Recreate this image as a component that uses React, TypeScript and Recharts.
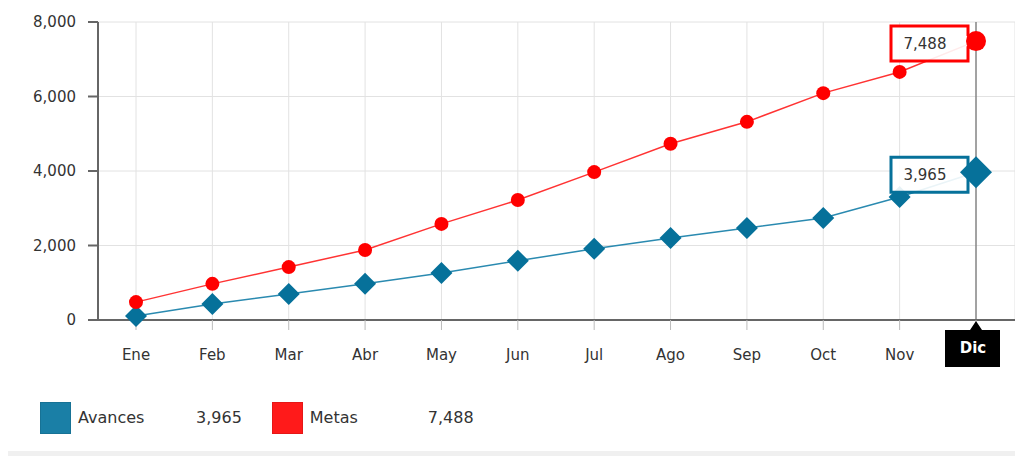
import React from 'react';
import { LineChart, Line, XAxis, YAxis, CartesianGrid, ReferenceLine } from 'recharts';

const MONTHS = ['Ene', 'Feb', 'Mar', 'Abr', 'May', 'Jun', 'Jul', 'Ago', 'Sep', 'Oct', 'Nov', 'Dic'];
const AVANCES = [110, 430, 700, 970, 1260, 1590, 1910, 2200, 2470, 2740, 3300, 3965];
const METAS = [480, 970, 1420, 1880, 2580, 3220, 3970, 4730, 5320, 6090, 6660, 7488];
const Y_TICKS = [0, 2000, 4000, 6000, 8000];

const BLUE = '#06719a';
const BLUE_LINE = '#2a8ab0';
const RED = '#ff0000';
const RED_LINE = '#ff3333';
const FONT = '"DejaVu Sans", Verdana, sans-serif';

const data = MONTHS.map((m, i) => ({ month: m, avances: AVANCES[i], metas: METAS[i] }));
const last = MONTHS.length - 1;
const fmt = (v: number) => v.toLocaleString('en-US');

const ValueBox = ({ cx, cy, color, value }: { cx: number; cy: number; color: string; value: number }) => {
  const l = cx - 85;
  const r = cx - 8;
  const t = cy - 15;
  const b = cy + 20;
  const d = `M${l},${t} H${r} V${cy - 6} L${cx - 2},${cy} L${r},${cy + 6} V${b} H${l} Z`;
  return (
    <g>
      <path d={d} fill="#fff" fillOpacity={0.9} stroke={color} strokeWidth={3} />
      <text x={cx - 51} y={cy + 8} textAnchor="middle" fontSize={15} fontFamily={FONT} fill="#333">
        {fmt(value)}
      </text>
    </g>
  );
};

const RedDot = (props: any) => {
  const { cx, cy, index, value } = props;
  if (index === last) {
    return (
      <g key={`r-${index}`}>
        <ValueBox cx={cx} cy={cy} color={RED} value={value} />
        <circle cx={cx} cy={cy} r={10} fill={RED} />
      </g>
    );
  }
  return <circle key={`r-${index}`} cx={cx} cy={cy} r={7} fill={RED} />;
};

const BlueDot = (props: any) => {
  const { cx, cy, index, value } = props;
  const s = index === last ? 16 : 11;
  const diamond = `M${cx},${cy - s} L${cx + s},${cy} L${cx},${cy + s} L${cx - s},${cy} Z`;
  if (index === last) {
    return (
      <g key={`b-${index}`}>
        <ValueBox cx={cx} cy={cy} color={BLUE} value={value} />
        <path d={diamond} fill={BLUE} />
      </g>
    );
  }
  return <path key={`b-${index}`} d={diamond} fill={BLUE} />;
};

const MonthTick = (props: any) => {
  const { x, y, payload } = props;
  if (payload.value === 'Dic') {
    const top = y - 8;
    return (
      <g>
        <path
          d={`M${x - 31},${top} H${x - 6} L${x},${top - 9} L${x + 6},${top} H${x + 24} V${top + 37} H${x - 31} Z`}
          fill="#000"
        />
        <text x={x - 3} y={top + 23} textAnchor="middle" fontSize={15} fontWeight="bold" fontFamily={FONT} fill="#fff">
          Dic
        </text>
      </g>
    );
  }
  return (
    <text x={x} y={y + 22} textAnchor="middle" fontSize={15} fontFamily={FONT} fill="#333">
      {payload.value}
    </text>
  );
};

const LegendItem = ({ color, name, value, width }: { color: string; name: string; value: number; width: number }) => (
  <div style={{ display: 'flex', alignItems: 'center' }}>
    <div style={{ width: 29, height: 30, background: color, border: '1px solid rgba(0,0,0,0.1)' }} />
    <span style={{ marginLeft: 7, width, color: '#333' }}>{name}</span>
    <span style={{ color: '#333' }}>{fmt(value)}</span>
  </div>
);

export default function App() {
  return (
    <div style={{ width: 1015, fontFamily: FONT }}>
      <LineChart width={1015} height={380} data={data} margin={{ top: 14, right: 8, bottom: 8, left: 0 }}>
        <CartesianGrid stroke="#e2e2e2" />
        <XAxis
          dataKey="month"
          padding={{ left: 38, right: 39 }}
          axisLine={{ stroke: '#666', strokeWidth: 2 }}
          tickLine={{ stroke: '#bbb' }}
          tickSize={10}
          tickMargin={8}
          height={60}
          interval={0}
          tick={<MonthTick />}
        />
        <YAxis
          domain={[0, 8000]}
          ticks={Y_TICKS}
          width={90}
          tickFormatter={fmt}
          axisLine={{ stroke: '#666', strokeWidth: 2 }}
          tickLine={{ stroke: '#666', strokeWidth: 2 }}
          tickSize={10}
          tickMargin={12}
          tick={{ fontSize: 15, fontFamily: FONT, fill: '#333' }}
        />
        <ReferenceLine x="Dic" stroke="#555" />
        <Line
          type="linear"
          dataKey="avances"
          stroke={BLUE_LINE}
          strokeWidth={1.5}
          dot={<BlueDot />}
          activeDot={false}
          isAnimationActive={false}
        />
        <Line
          type="linear"
          dataKey="metas"
          stroke={RED_LINE}
          strokeWidth={1.5}
          dot={<RedDot />}
          activeDot={false}
          isAnimationActive={false}
        />
      </LineChart>
      <div style={{ display: 'flex', gap: 30, marginTop: 14, paddingLeft: 32, fontSize: 16, height: 31 }}>
        <LegendItem color="#1a7fa6" name="Avances" value={3965} width={118} />
        <LegendItem color="#ff1a1a" name="Metas" value={7488} width={118} />
      </div>
      <div style={{ marginTop: 18, height: 6, width: 1015, background: '#f0f0f0' }} />
    </div>
  );
}
